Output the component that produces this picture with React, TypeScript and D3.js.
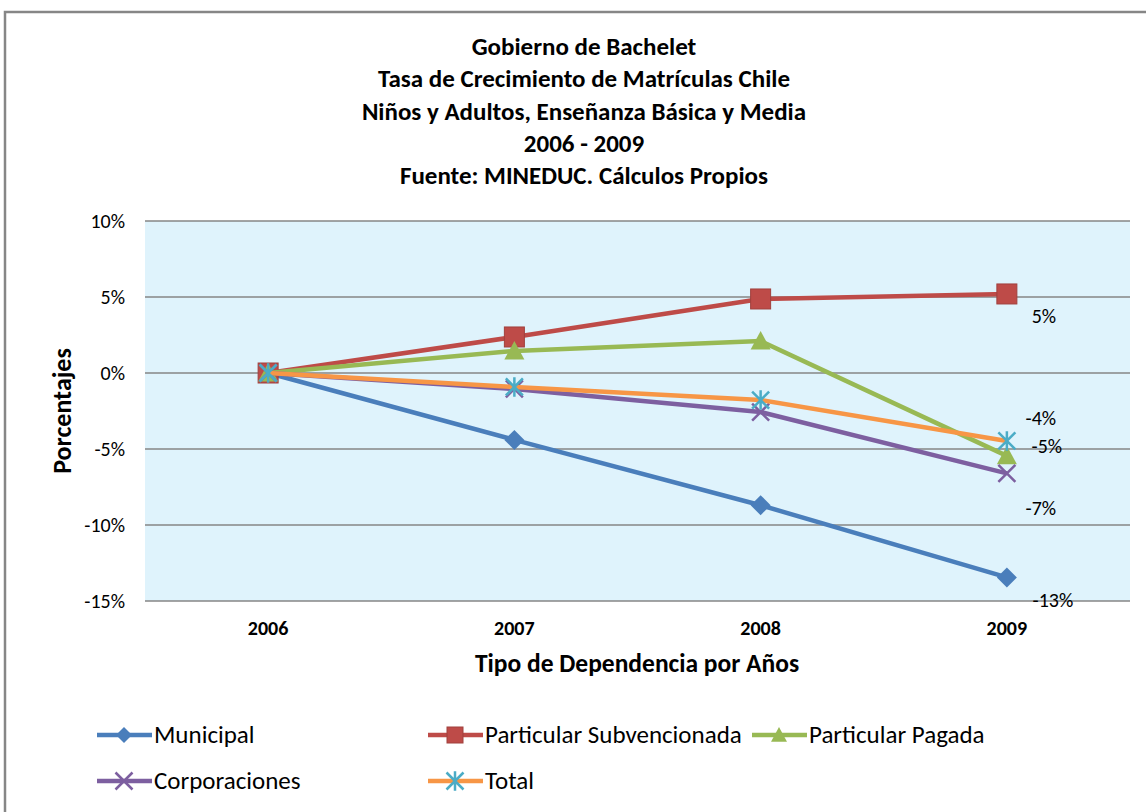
import React from "react";
import * as d3 from "d3";

const titleLines = [
  "Gobierno de Bachelet",
  "Tasa de Crecimiento de Matrículas Chile",
  "Niños y Adultos, Enseñanza Básica y Media",
  "2006 - 2009",
  "Fuente: MINEDUC. Cálculos Propios",
];
const years = ["2006", "2007", "2008", "2009"];
const yTicks = [0.1, 0.05, 0, -0.05, -0.1, -0.15];
const municipal = [0, -0.044, -0.087, -0.1345];
const subvencionada = [0, 0.0237, 0.0487, 0.052];
const pagada = [0, 0.0145, 0.021, -0.0545];
const corporaciones = [0, -0.0105, -0.0257, -0.066];
const total = [0, -0.0092, -0.0178, -0.0447];
const seriesNames = ["Municipal", "Particular Subvencionada", "Particular Pagada", "Corporaciones", "Total"];
const endLabels = ["-13%", "5%", "-5%", "-7%", "-4%"];

const FONT = "Carlito, 'Liberation Sans Narrow', 'Liberation Sans', Arial, sans-serif";

type Series = { name: string; values: number[]; color: string; marker: string; markerColor: string; label: string; ldx: number; ldy: number };

const series: Series[] = [
  { name: seriesNames[0], values: municipal, color: "#4a7ebb", marker: "diamond", markerColor: "#4a7ebb", label: endLabels[0], ldx: 46, ldy: 30 },
  { name: seriesNames[1], values: subvencionada, color: "#be4b48", marker: "square", markerColor: "#be4b48", label: endLabels[1], ldx: 37, ldy: 29 },
  { name: seriesNames[2], values: pagada, color: "#98b954", marker: "triangle", markerColor: "#98b954", label: endLabels[2], ldx: 40, ldy: -3 },
  { name: seriesNames[3], values: corporaciones, color: "#7d5fa0", marker: "x", markerColor: "#7d5fa0", label: endLabels[3], ldx: 34, ldy: 42 },
  { name: seriesNames[4], values: total, color: "#f79646", marker: "star", markerColor: "#4bacc6", label: endLabels[4], ldx: 34, ldy: -16 },
];

const fmtPct = (v: number) => `${Math.round(v * 100)}%`.replace("\u2212", "-");

function Marker({ type, x, y, color, s }: { type: string; x: number; y: number; color: string; s: number }) {
  if (type === "diamond") {
    return <path d={`M${x},${y - s}L${x + s},${y}L${x},${y + s}L${x - s},${y}Z`} fill={color} />;
  }
  if (type === "square") {
    return <rect x={x - s} y={y - s} width={s * 2} height={s * 2} fill={color} stroke="#a0403d" strokeWidth={1} />;
  }
  if (type === "triangle") {
    return <path d={`M${x},${y - s}L${x + s},${y + s * 0.85}L${x - s},${y + s * 0.85}Z`} fill={color} />;
  }
  if (type === "x") {
    const r = s * 0.85;
    return (
      <path d={`M${x - r},${y - r}L${x + r},${y + r}M${x - r},${y + r}L${x + r},${y - r}`} stroke={color} strokeWidth={2.5} />
    );
  }
  const r = s * 0.85;
  return (
    <path
      d={`M${x - r},${y - r}L${x + r},${y + r}M${x - r},${y + r}L${x + r},${y - r}M${x},${y - r * 1.15}L${x},${y + r * 1.15}`}
      stroke={color}
      strokeWidth={2.5}
    />
  );
}

export default function App() {
  const W = 1146, H = 812;
  const left = 145, right = 1130, top = 221, bottom = 601;
  const x = d3.scalePoint<string>().domain(years).range([left, right]).padding(0.5);
  const y = d3.scaleLinear().domain([-0.15, 0.1]).range([bottom, top]);
  const line = d3.line<number>().x((_, i) => x(years[i])!).y((d) => y(d));

  const legendPos = [
    { lx: 97, ly: 735 },
    { lx: 428, ly: 735 },
    { lx: 752, ly: 735 },
    { lx: 97, ly: 781 },
    { lx: 428, ly: 781 },
  ];

  return (
    <svg width={W} height={H} style={{ position: "absolute", left: 0, top: 0, fontFamily: FONT }}>
      <rect x={0} y={0} width={W} height={H} fill="#fff" />
      <rect x={5} y={12} width={W + 10} height={H + 10} fill="none" stroke="#868686" strokeWidth={2.5} />
      {titleLines.map((t, i) => (
        <text key={i} x={584} y={55 + i * 32.3} textAnchor="middle" fontSize={25} fontWeight="bold" fill="#000">
          {t}
        </text>
      ))}
      <rect x={left} y={top} width={right - left} height={bottom - top} fill="#dff3fc" />
      {yTicks.map((t) => (
        <g key={t}>
          <line x1={left} x2={right} y1={y(t)} y2={y(t)} stroke="#868686" strokeWidth={1.5} />
          <text x={125} y={y(t) + 7} textAnchor="end" fontSize={20} fill="#000">
            {fmtPct(t)}
          </text>
        </g>
      ))}
      {years.map((yr) => (
        <text key={yr} x={x(yr)} y={635} textAnchor="middle" fontSize={20} fontWeight="bold" fill="#000">
          {yr}
        </text>
      ))}
      <text x={637} y={672} textAnchor="middle" fontSize={25.5} fontWeight="bold">
        Tipo de Dependencia por Años
      </text>
      <text transform={`translate(71,411) rotate(-90)`} textAnchor="middle" fontSize={26} fontWeight="bold">
        Porcentajes
      </text>
      {series.map((s) => (
        <g key={s.name}>
          <path d={line(s.values)!} fill="none" stroke={s.color} strokeWidth={4.5} strokeLinejoin="round" />
          {s.values.map((v, i) => (
            <Marker key={i} type={s.marker} x={x(years[i])!} y={y(v)} color={s.markerColor} s={10} />
          ))}
        </g>
      ))}
      {series.map((s) => {
        const v = s.values[s.values.length - 1];
        return (
          <text key={s.name + "l"} x={x(years[3])! + s.ldx} y={y(v) + s.ldy} textAnchor="middle" fontSize={20} fill="#000">
            {s.label}
          </text>
        );
      })}
      {series.map((s, i) => {
        const p = legendPos[i];
        return (
          <g key={s.name + "lg"}>
            <line x1={p.lx} x2={p.lx + 55} y1={p.ly} y2={p.ly} stroke={s.color} strokeWidth={4.5} />
            <Marker type={s.marker} x={p.lx + 27} y={p.ly} color={s.markerColor} s={s.marker === "x" || s.marker === "star" ? 10 : 8} />
            <text x={p.lx + 57} y={p.ly + 8} fontSize={25} fill="#000">
              {s.name}
            </text>
          </g>
        );
      })}
    </svg>
  );
}
